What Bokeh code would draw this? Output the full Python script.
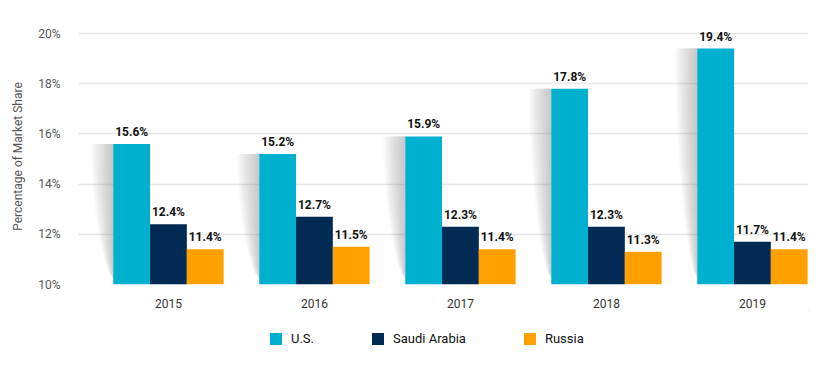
import numpy as np
from bokeh.plotting import figure
from bokeh.layouts import column
from bokeh.models import ColumnDataSource, FixedTicker, Legend, LegendItem, Range1d
from bokeh.core.properties import value
from bokeh.embed import file_html
from bokeh.resources import INLINE

years = ["2015", "2016", "2017", "2018", "2019"]
us = [15.6, 15.2, 15.9, 17.8, 19.4]
saudi = [12.4, 12.7, 12.3, 12.3, 11.7]
russia = [11.4, 11.5, 11.4, 11.3, 11.4]
series_names = ["U.S.", "Saudi Arabia", "Russia"]
colors = ["#00B1CF", "#022B53", "#FFA000"]
y_ticks = [10, 12, 14, 16, 18, 20]

FONT = "Roboto"
BW = 0.252
BASE = 10

p = figure(width=822, height=310, output_backend="svg", toolbar_location=None,
           x_range=Range1d(-0.616, 4.384), y_range=Range1d(10, 20.2),
           min_border_left=78, min_border_right=14, min_border_top=28, min_border_bottom=26)
p.outline_line_color = None
p.background_fill_color = "white"

x = np.arange(len(years))

# shadows behind the U.S. bars
N = 9
t = np.linspace(0, 1, 30)
for i, top in enumerate(us):
    xl = float(x[i] - 1.5 * BW)
    for k in range(1, N + 1):
        w = 0.15 * k / N
        ys = top - (top - BASE - 0.25) * t
        xs = xl - w * np.cos(t * np.pi / 2) ** 0.6
        px = [float(v) for v in xs] + [xl, xl]
        py = [float(v) for v in ys] + [BASE + 0.25, top]
        p.patch(px, py, fill_color="#7a7a7a", fill_alpha=0.055, line_color=None)

for j, (vals, col) in enumerate(zip([us, saudi, russia], colors)):
    xc = [float(v) for v in (x + (j - 1) * BW)]
    src = ColumnDataSource(dict(x=xc, top=vals, lab=[f"{v:.1f}%" for v in vals]))
    p.vbar(x="x", top="top", bottom=BASE, width=BW, source=src,
           fill_color=col, line_color=None)
    p.text(x="x", y="top", text="lab", source=src, text_align="center",
           text_baseline="bottom", y_offset=-5, text_font=value(FONT),
           text_font_size="12px", text_color="#111111", text_font_style="bold")

p.xaxis.ticker = FixedTicker(ticks=[int(v) for v in x])
p.xaxis.major_label_overrides = {int(i): yr for i, yr in zip(x, years)}
p.xaxis.axis_line_color = None
p.xaxis.major_tick_line_color = None
p.xaxis.minor_tick_line_color = None
p.xaxis.major_label_text_font = FONT
p.xaxis.major_label_text_font_size = "12px"
p.xaxis.major_label_text_color = "#333333"
p.xaxis.major_label_standoff = 8

p.yaxis.ticker = FixedTicker(ticks=y_ticks)
p.yaxis.major_label_overrides = {t_: f"{t_}%" for t_ in y_ticks}
p.yaxis.axis_line_color = None
p.yaxis.major_tick_line_color = None
p.yaxis.minor_tick_line_color = None
p.yaxis.major_label_text_font = FONT
p.yaxis.major_label_text_font_size = "12px"
p.yaxis.major_label_text_color = "#555555"
p.yaxis.major_label_standoff = 12
p.yaxis.axis_label = "Percentage of Market Share"
p.yaxis.axis_label_text_font = FONT
p.yaxis.axis_label_text_font_size = "12px"
p.yaxis.axis_label_text_font_style = "normal"
p.yaxis.axis_label_text_color = "#555555"
p.yaxis.axis_label_standoff = 10

p.xgrid.grid_line_color = None
p.ygrid.grid_line_color = "#e6e6e6"
p.ygrid.grid_line_width = 1.5

# legend strip below the chart (its frame is aligned with the chart's frame)
lf = figure(width=822, height=50, output_backend="svg", toolbar_location=None,
            x_range=Range1d(0, 1), y_range=Range1d(0, 1),
            x_axis_type=None, y_axis_type=None,
            min_border_left=78, min_border_right=14, min_border_top=0, min_border_bottom=0)
lf.outline_line_color = None
lf.grid.grid_line_color = None
items = []
for n, col in zip(series_names, colors):
    # renderer kept outside the visible range; only its legend swatch shows
    r = lf.vbar(x=[5], top=[5], bottom=[4], width=0.1, fill_color=col, line_color=None)
    items.append(LegendItem(label=n, renderers=[r]))
legend = Legend(items=items, orientation="horizontal", location=(190, 14), spacing=56,
                glyph_width=15, glyph_height=15, label_standoff=8,
                label_text_font=FONT, label_text_font_size="13px", label_text_color="#111111",
                border_line_color=None, background_fill_alpha=0, margin=0, padding=4)
lf.add_layout(legend, "center")

layout = column(p, lf, spacing=0)
open("out.html", "w").write(file_html(layout, INLINE))
